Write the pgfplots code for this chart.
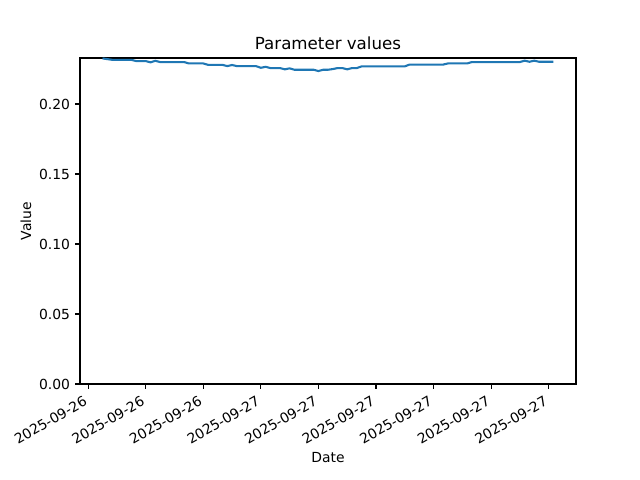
\documentclass[border=0pt]{standalone}
\usepackage{pgfplots}
\pgfplotsset{compat=1.18}
\usepackage{fontspec}
\setmainfont{DejaVu Sans}
\definecolor{mplblue}{HTML}{1F77B4}
\begin{document}
\begin{tikzpicture}
\path[use as bounding box] (0,0) rectangle (460.8pt,345.6pt);
\begin{axis}[
  at={(57.6pt,69.12pt)}, anchor=south west,
  scale only axis, width=357.12pt, height=234.72pt,
  xmin=-0.425, xmax=25.425, ymin=0, ymax=0.2329,
  axis line style={line width=0.8pt},
  tick align=outside, xtick pos=bottom, ytick pos=left,
  major tick length=3.5pt,
  every tick/.style={black, line width=0.8pt},
  xtick={0,3,6,9,12,15,18,21,24},
  xticklabels={2025-09-26,2025-09-26,2025-09-26,2025-09-27,2025-09-27,2025-09-27,2025-09-27,2025-09-27,2025-09-27},
  xticklabel style={rotate=30, anchor=north east, inner sep=0pt, xshift=-5.5pt, yshift=-2pt, font=\fontsize{10}{12}\selectfont},
  ytick={0,0.05,0.1,0.15,0.2},
  yticklabel style={anchor=east, inner sep=0pt, xshift=-3.5pt, font=\fontsize{10}{12}\selectfont,
    /pgf/number format/.cd, fixed, fixed zerofill, precision=2, assume math mode=true},
  scaled y ticks=false,
  title={Parameter values},
  title style={at={(rel axis cs:0.5,1)}, anchor=center, yshift=4.8pt, inner sep=0pt, font=\fontsize{12}{14}\selectfont},
  xlabel={Date},
  xlabel style={at={(rel axis cs:0.5,0)}, anchor=center, yshift=-52.6pt, inner sep=0pt, font=\fontsize{10}{12}\selectfont},
  ylabel={Value},
  ylabel style={at={(rel axis cs:0,0.5)}, anchor=center, yshift=38.9pt, inner sep=0pt, font=\fontsize{10}{12}\selectfont},
]
\addplot[mplblue, line width=1.5pt, mark=none] coordinates {
(0.75,0.2326) (1.00,0.2321) (1.25,0.2316) (1.50,0.2316) (1.75,0.2316) (2.00,0.2316) (2.25,0.2316)
(2.50,0.2307) (2.75,0.2307) (3.00,0.2307) (3.25,0.2298) (3.50,0.2309) (3.75,0.2300) (4.00,0.2300)
(4.25,0.2300) (4.50,0.2300) (4.75,0.2300) (5.00,0.2300) (5.25,0.2290) (5.50,0.2290) (5.75,0.2290)
(6.00,0.2290) (6.25,0.2280) (6.50,0.2280) (6.75,0.2280) (7.00,0.2280) (7.25,0.2271) (7.50,0.2279)
(7.75,0.2271) (8.00,0.2271) (8.25,0.2271) (8.50,0.2271) (8.75,0.2271) (9.00,0.2259) (9.25,0.2266)
(9.50,0.2257) (9.75,0.2257) (10.00,0.2257) (10.25,0.2248) (10.50,0.2255) (10.75,0.2245) (11.00,0.2245)
(11.25,0.2245) (11.50,0.2245) (11.75,0.2245) (12.00,0.2236) (12.25,0.2245) (12.50,0.2245) (12.75,0.2250)
(13.00,0.2257) (13.25,0.2257) (13.50,0.2248) (13.75,0.2257) (14.00,0.2257) (14.25,0.2269) (14.50,0.2269)
(14.75,0.2269) (15.00,0.2269) (15.25,0.2269) (15.50,0.2269) (15.75,0.2269) (16.00,0.2269) (16.25,0.2269)
(16.50,0.2269) (16.75,0.2282) (17.00,0.2282) (17.25,0.2282) (17.50,0.2282) (17.75,0.2282) (18.00,0.2282)
(18.25,0.2282) (18.50,0.2282) (18.75,0.2290) (19.00,0.2290) (19.25,0.2290) (19.50,0.2290) (19.75,0.2290)
(20.00,0.2300) (20.25,0.2300) (20.50,0.2300) (20.75,0.2300) (21.00,0.2300) (21.25,0.2300) (21.50,0.2300)
(21.75,0.2300) (22.00,0.2300) (22.25,0.2300) (22.50,0.2300) (22.75,0.2310) (23.00,0.2302) (23.25,0.2310)
(23.50,0.2302) (23.75,0.2302) (24.00,0.2302) (24.25,0.2302)
};
\end{axis}
\end{tikzpicture}
\end{document}
